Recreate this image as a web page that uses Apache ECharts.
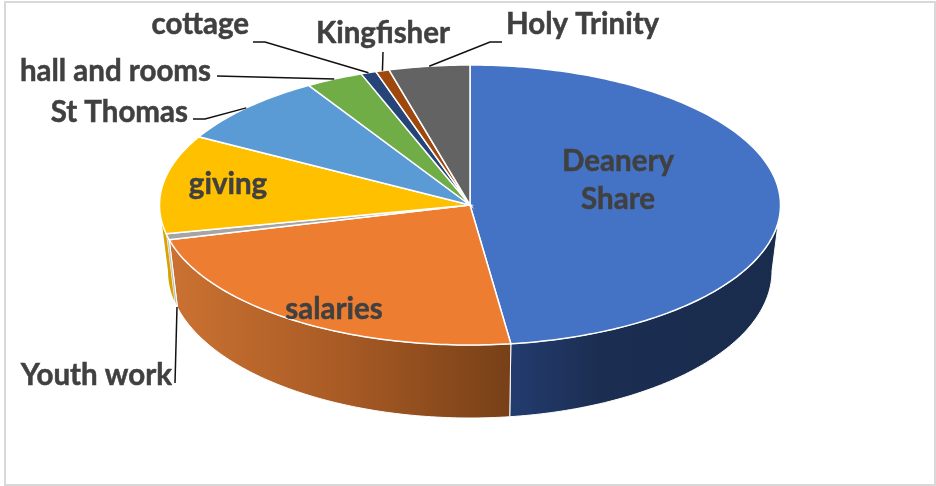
<!DOCTYPE html>
<html>
<head>
<meta charset="utf-8">
<title>Pie</title>
<script src="https://cdn.jsdelivr.net/npm/echarts@6/dist/echarts.min.js"></script>
<style>
html, body { margin: 0; padding: 0; background: #fff; }
#main { width: 936px; height: 486px; }
</style>
</head>
<body>
<div id="main"></div>
<script>
// 各项名称和占比(从图上估读,单位 %)
var sliceNames = ['Deanery Share', 'salaries', 'Youth work', 'giving', 'St Thomas', 'hall and rooms', 'cottage', 'Kingfisher', 'Holy Trinity'];
var sliceValues = [47.9, 23.1, 0.7, 11.4, 8.2, 3.0, 0.8, 0.7, 4.2];
var sliceColors = ['#4472c4', '#ed7d31', '#a5a5a5', '#ffc000', '#5b9bd5', '#70ad47', '#264478', '#9e480e', '#636363'];

// 侧面渐变(只有朝前的几块能看到)
var wallStops = {
    'Deanery Share': [[0, '#233c6f'], [0.35, '#1b2d50'], [1, '#1a2c4e']],
    'salaries': [[0, '#cb7232'], [0.5, '#a95b25'], [1, '#774017']],
    'Youth work': [[0, '#c9c9c9'], [1, '#bdbdbd']],
    'giving': [[0, '#e0a800'], [1, '#d29f00']]
};

// 顶面椭圆和底面椭圆(底面略窄,有透视)
var topEllipse = { cx: 470, cy: 205, rx: 310.5, ry: 140 };
var bottomEllipse = { cx: 470, cy: 271, rx: 302, ry: 147 };

// 文字位置,pts 是引线折点,最后接到扇区中点
var labelLayout = {
    'Deanery Share': { x: 618, y: 180, align: 'center', lines: ['Deanery', 'Share'] },
    'salaries': { x: 334, y: 309, align: 'center' },
    'giving': { x: 228, y: 184, align: 'center' },
    'St Thomas': { x: 188, y: 112, align: 'right', pts: [[193, 119], [205, 119]] },
    'hall and rooms': { x: 211, y: 71, align: 'right', pts: [[217, 76]] },
    'cottage': { x: 249, y: 24, align: 'right', pts: [[253, 42], [265, 42]] },
    'Kingfisher': { x: 450, y: 33, align: 'right', pts: [[383, 52]] },
    'Holy Trinity': { x: 506, y: 24, align: 'left', pts: [[502, 42], [490, 42]] },
    'Youth work': { x: 172, y: 375, align: 'right', pts: [[175, 383], [177, 307]], noAnchor: true }
};

var labelFont = 'bold 29.5px Lato, "Open Sans", sans-serif';

// 累计角度,从12点方向顺时针
var total = 0;
for (var i = 0; i < sliceValues.length; i++) {
    total += sliceValues[i];
}
var sliceAngles = [];
var sum = 0;
for (var j = 0; j < sliceValues.length; j++) {
    var start = sum / total * 360;
    sum += sliceValues[j];
    sliceAngles.push([start, sum / total * 360]);
}

function ellipsePoint(e, deg) {
    var t = deg * Math.PI / 180;
    return [e.cx + e.rx * Math.sin(t), e.cy - e.ry * Math.cos(t)];
}

function arcPoints(e, from, to) {
    var pts = [];
    var n = Math.max(2, Math.ceil(Math.abs(to - from)));
    for (var k = 0; k <= n; k++) {
        pts.push(ellipsePoint(e, from + (to - from) * k / n));
    }
    return pts;
}

function renderWall(params, api) {
    var idx = api.value(0);
    var a = sliceAngles[idx];
    // 只画朝前的半圈
    var from = Math.max(a[0], 90);
    var to = Math.min(a[1], 270);
    if (from >= to) {
        return null;
    }
    var pts = arcPoints(topEllipse, from, to).concat(arcPoints(bottomEllipse, to, from));
    var stops = wallStops[sliceNames[idx]].map(function (s) {
        return { offset: s[0], color: s[1] };
    });
    // giving 这块很窄,不加白边
    var noEdge = sliceNames[idx] === 'giving';
    return {
        type: 'polygon',
        shape: { points: pts },
        style: {
            fill: new echarts.graphic.LinearGradient(0, 0, 1, 0, stops),
            stroke: noEdge ? null : '#fff',
            lineWidth: noEdge ? 0 : 1
        }
    };
}

function renderTop(params, api) {
    var idx = api.value(0);
    var a = sliceAngles[idx];
    var pts = [[topEllipse.cx, topEllipse.cy]].concat(arcPoints(topEllipse, a[0], a[1]));
    return {
        type: 'polygon',
        shape: { points: pts },
        style: {
            fill: sliceColors[idx],
            stroke: '#fff',
            lineWidth: 1.5
        }
    };
}

function renderLabel(params, api) {
    var idx = api.value(0);
    var name = sliceNames[idx];
    var cfg = labelLayout[name];
    var a = sliceAngles[idx];
    var children = [];
    if (cfg.pts) {
        var line = cfg.pts.slice();
        if (!cfg.noAnchor) {
            line.push(ellipsePoint(topEllipse, (a[0] + a[1]) / 2));
        }
        children.push({
            type: 'polyline',
            shape: { points: line },
            style: { fill: null, stroke: '#111', lineWidth: 1.5 }
        });
    }
    children.push({
        type: 'text',
        style: {
            text: (cfg.lines || [name]).join('\n'),
            x: cfg.x,
            y: cfg.y,
            font: labelFont,
            lineHeight: 38,
            fill: '#404040',
            stroke: '#404040',
            lineWidth: 0.5,
            align: cfg.align,
            verticalAlign: 'middle'
        }
    });
    return { type: 'group', children: children };
}

var indexData = sliceNames.map(function (n, i) {
    return [i, sliceValues[i]];
});

var option = {
    backgroundColor: '#fff',
    animation: false,
    graphic: [{
        type: 'rect',
        shape: { x: 5, y: 2, width: 930, height: 483 },
        style: { fill: null, stroke: '#d9d9d9', lineWidth: 2 },
        silent: true,
        z: 0
    }],
    series: [
        { type: 'custom', coordinateSystem: 'none', renderItem: renderWall, data: indexData, z: 1, silent: true },
        { type: 'custom', coordinateSystem: 'none', renderItem: renderTop, data: indexData, z: 2, silent: true },
        { type: 'custom', coordinateSystem: 'none', renderItem: renderLabel, data: indexData, z: 3, silent: true }
    ]
};

var chart = echarts.init(document.getElementById('main'));
chart.setOption(option);
</script>
</body>
</html>
